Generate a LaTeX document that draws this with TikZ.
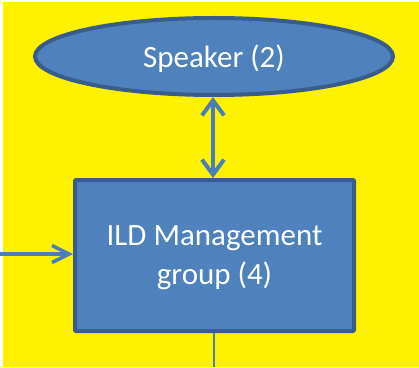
\documentclass[tikz,border=0pt]{standalone}
\usepackage{fontspec}
\setmainfont{Carlito}
\usepackage{xcolor}
\usetikzlibrary{arrows.meta, shapes.geometric}

\definecolor{boxblue}{HTML}{4F81BD}
\definecolor{edgeblue}{HTML}{385D8A}
\definecolor{linkblue}{HTML}{4A7EBB}

\begin{document}
\begin{tikzpicture}[x=1pt, y=1pt, line width=4pt, text=white,
    font=\fontsize{31}{39}\selectfont, text depth=-3pt]
    \fill[white] (0, 0) rectangle (419, 367);
    \fill[yellow] (3, 0) rectangle (419, 365);
    \useasboundingbox (0, 0) rectangle (419, 367);

    \node[draw=edgeblue, fill=boxblue, ellipse, minimum width=358pt, minimum height=77pt, inner sep=0pt] at (214, 310.5) (speaker) {Speaker (2)};

    \node[draw=edgeblue, fill=boxblue, rectangle, rounded corners=1pt, minimum width=279pt, minimum height=151pt, inner sep=0pt, align=center] at (214.5, 111.5) (ildgroup) {ILD Management\\group (4)};

    \coordinate (left) at (0, 113);
    \coordinate (bottom) at (214, 0);

    \draw[linkblue, line width=4pt, line cap=round, line join=round, {Straight Barb[length=15pt, width=22pt]}-{Straight Barb[length=15pt, width=22pt]}] (speaker.south -| 213, 0) -- (ildgroup.north -| 213, 0);
    \draw[linkblue, line width=3.5pt, line cap=round, line join=round, -{Straight Barb[length=17pt, width=17pt]}] (left) -- (left -| ildgroup.west);
    \draw[linkblue, line width=2pt] (ildgroup.south -| bottom) -- (bottom);
  \end{tikzpicture}
\end{document}
